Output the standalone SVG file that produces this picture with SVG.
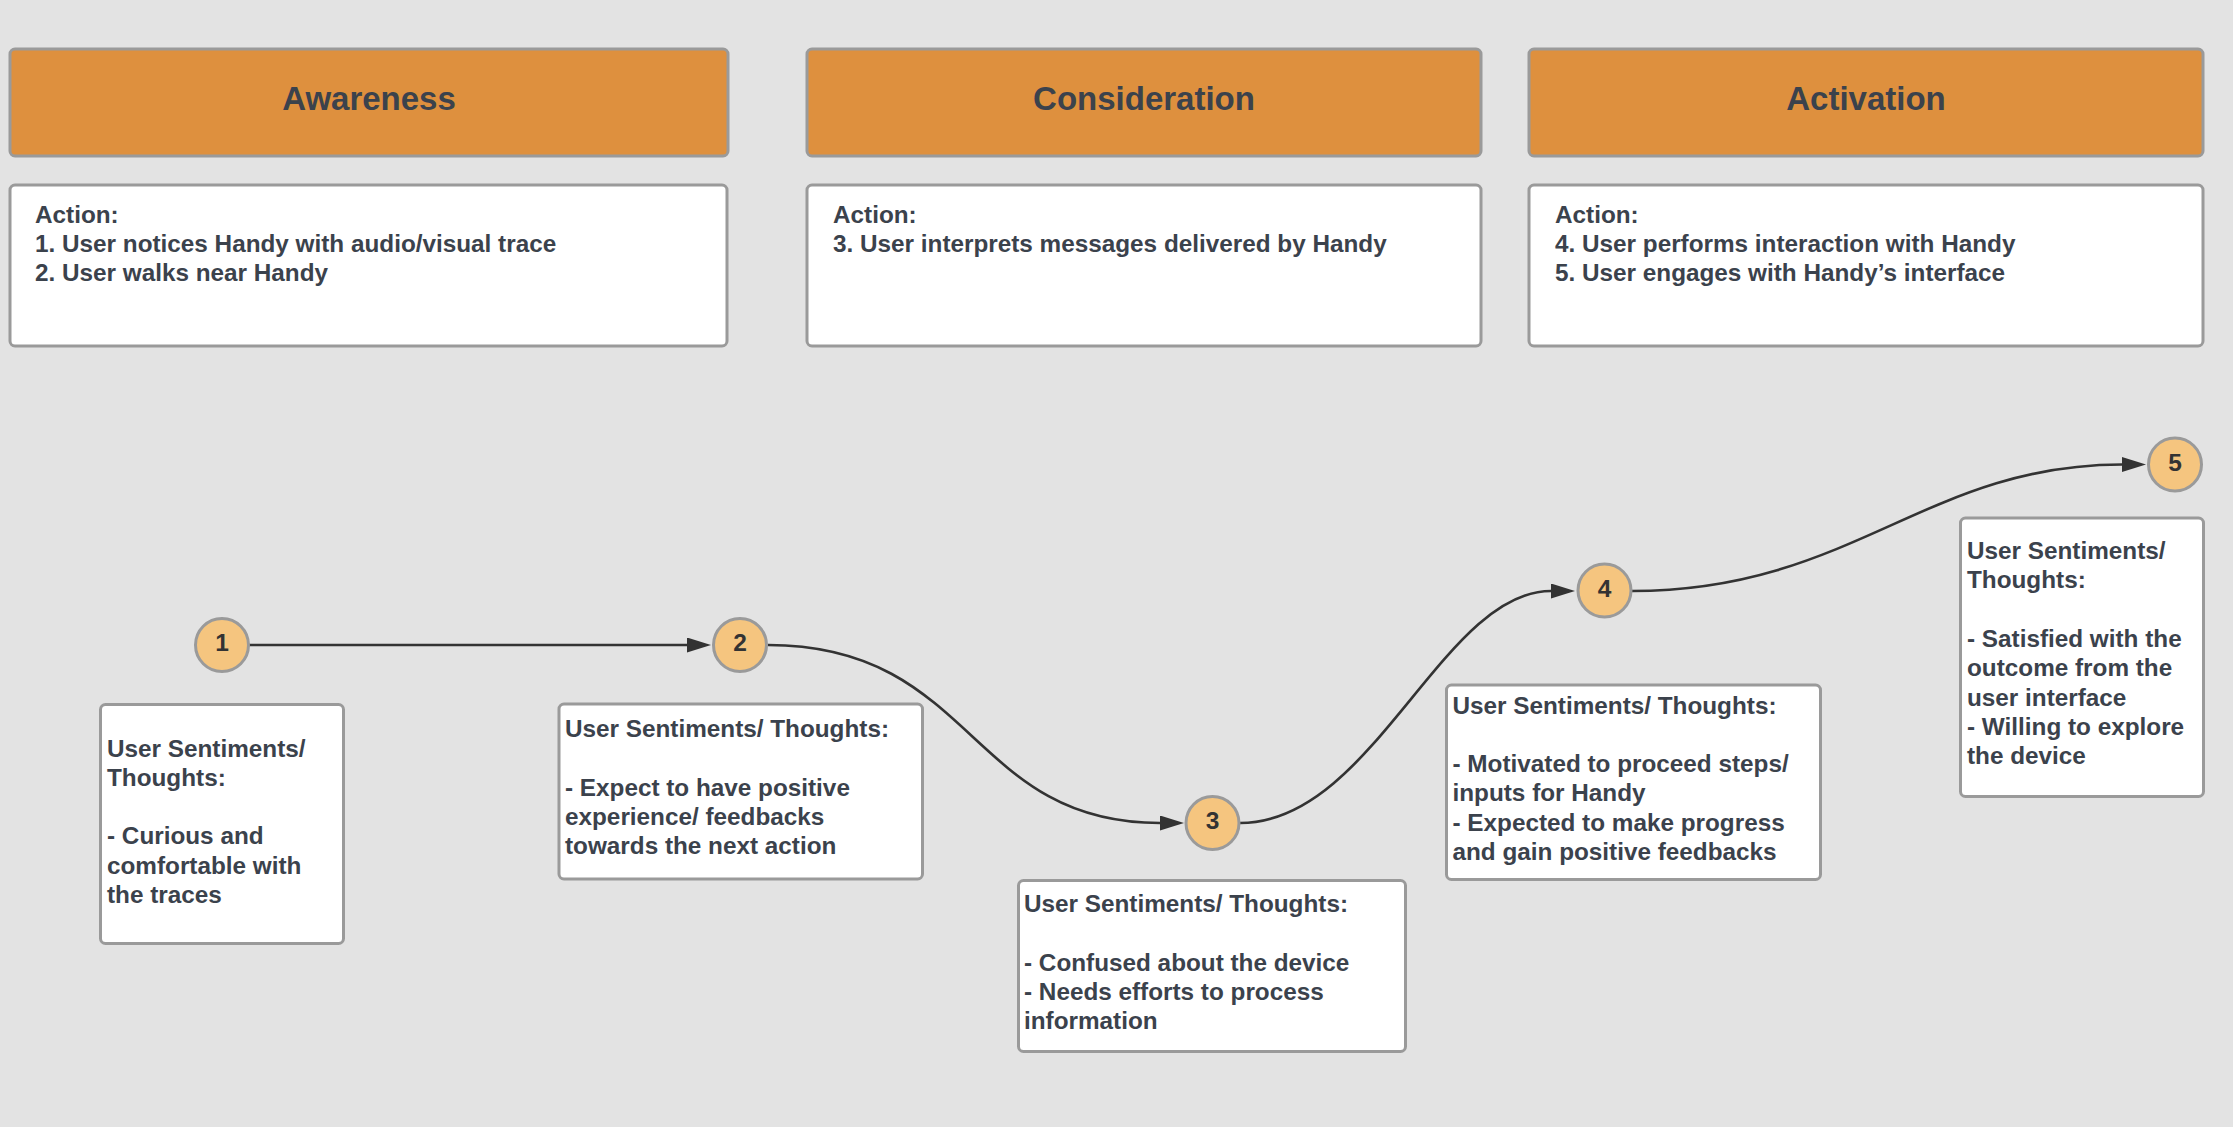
<svg xmlns="http://www.w3.org/2000/svg" width="2233" height="1127" viewBox="0 0 2233 1127">
<style>
  .bg { fill: #e3e3e3; }
  .stage { fill: #de903e; stroke: #9a9a9a; stroke-width: 3; }
  .box { fill: #ffffff; stroke: #9a9a9a; stroke-width: 3; }
  .dot { fill: #f5c57f; stroke: #9a9a9a; stroke-width: 3; }
  text { font-family: "Liberation Sans", Arial, sans-serif; font-weight: bold; fill: #3b424c; }
  .title { font-size: 33px; text-anchor: middle; }
  .body { font-size: 24.3px; }
  .num { font-size: 24.5px; text-anchor: middle; fill: #333333; }
  .conn { fill: none; stroke: #333333; stroke-width: 2.6; marker-end: url(#arrow); }
</style>
<defs>
  <marker id="arrow" markerUnits="userSpaceOnUse" markerWidth="25" markerHeight="16" refX="0" refY="7.5" orient="auto">
    <path d="M0,0 L24,7.5 L0,15 z" fill="#333333"/>
  </marker>
</defs>
<rect class="bg" x="0" y="0" width="2233" height="1127"/>

<g id="stage-awareness">
  <rect class="stage" x="10" y="49" width="718" height="107" rx="5"/>
  <text class="title" x="369" y="109.5">Awareness</text>
</g>
<g id="stage-consideration">
  <rect class="stage" x="807" y="49" width="674" height="107" rx="5"/>
  <text class="title" x="1144" y="109.5">Consideration</text>
</g>
<g id="stage-activation">
  <rect class="stage" x="1529" y="49" width="674" height="107" rx="5"/>
  <text class="title" x="1866" y="109.5">Activation</text>
</g>

<g id="action-awareness">
  <rect class="box" x="10" y="185" width="717" height="161" rx="5"/>
  <text class="body" x="35" y="222.5">Action:<tspan x="35" dy="29.2">1. User notices Handy with audio/visual trace</tspan><tspan x="35" dy="29.2">2. User walks near Handy</tspan></text>
</g>
<g id="action-consideration">
  <rect class="box" x="807" y="185" width="674" height="161" rx="5"/>
  <text class="body" x="833" y="222.5">Action:<tspan x="833" dy="29.2">3. User interprets messages delivered by Handy</tspan></text>
</g>
<g id="action-activation">
  <rect class="box" x="1529" y="185" width="674" height="161" rx="5"/>
  <text class="body" x="1555" y="222.5">Action:<tspan x="1555" dy="29.2">4. User performs interaction with Handy</tspan><tspan x="1555" dy="29.2">5. User engages with Handy’s interface</tspan></text>
</g>

<g id="connectors">
  <path class="conn" d="M249,645 L687,645"/>
  <path class="conn" d="M768,645 C975,645 968,823 1160,823"/>
  <path class="conn" d="M1240,823 C1373,823 1442,591 1551,591"/>
  <path class="conn" d="M1632,591 C1852,591 1925,464.5 2122,464.5"/>
</g>

<g id="step-1">
  <circle class="dot" cx="222" cy="645" r="26.5"/>
  <text class="num" x="222" y="651">1</text>
</g>
<g id="step-2">
  <circle class="dot" cx="740" cy="645" r="26.5"/>
  <text class="num" x="740" y="651">2</text>
</g>
<g id="step-3">
  <circle class="dot" cx="1212.5" cy="823" r="26.5"/>
  <text class="num" x="1212.5" y="829">3</text>
</g>
<g id="step-4">
  <circle class="dot" cx="1604.5" cy="590.5" r="26.5"/>
  <text class="num" x="1604.5" y="596.5">4</text>
</g>
<g id="step-5">
  <circle class="dot" cx="2175" cy="464.5" r="26.5"/>
  <text class="num" x="2175" y="470.5">5</text>
</g>

<g id="sentiment-1">
  <rect class="box" x="100.5" y="704.5" width="243" height="239" rx="5"/>
  <text class="body" x="107" y="756.5">User Sentiments/<tspan x="107" dy="29.3">Thoughts:</tspan><tspan x="107" dy="58.6">- Curious and</tspan><tspan x="107" dy="29.3">comfortable with</tspan><tspan x="107" dy="29.3">the traces</tspan></text>
</g>
<g id="sentiment-2">
  <rect class="box" x="559" y="704" width="363.5" height="175" rx="5"/>
  <text class="body" x="565" y="737">User Sentiments/ Thoughts:<tspan x="565" dy="58.6">- Expect to have positive</tspan><tspan x="565" dy="29.3">experience/ feedbacks</tspan><tspan x="565" dy="29.3">towards the next action</tspan></text>
</g>
<g id="sentiment-3">
  <rect class="box" x="1018.5" y="880.5" width="387" height="171" rx="5"/>
  <text class="body" x="1024" y="912">User Sentiments/ Thoughts:<tspan x="1024" dy="58.6">- Confused about the device</tspan><tspan x="1024" dy="29.3">- Needs efforts to process</tspan><tspan x="1024" dy="29.3">information</tspan></text>
</g>
<g id="sentiment-4">
  <rect class="box" x="1446.5" y="685" width="374" height="194.5" rx="5"/>
  <text class="body" x="1452.5" y="713.5">User Sentiments/ Thoughts:<tspan x="1452.5" dy="58.6">- Motivated to proceed steps/</tspan><tspan x="1452.5" dy="29.3">inputs for Handy</tspan><tspan x="1452.5" dy="29.3">- Expected to make progress</tspan><tspan x="1452.5" dy="29.3">and gain positive feedbacks</tspan></text>
</g>
<g id="sentiment-5">
  <rect class="box" x="1960.5" y="518" width="243" height="278.5" rx="5"/>
  <text class="body" x="1967" y="559">User Sentiments/<tspan x="1967" dy="29.3">Thoughts:</tspan><tspan x="1967" dy="58.6">- Satisfied with the</tspan><tspan x="1967" dy="29.3">outcome from the</tspan><tspan x="1967" dy="29.3">user interface</tspan><tspan x="1967" dy="29.3">- Willing to explore</tspan><tspan x="1967" dy="29.3">the device</tspan></text>
</g>
</svg>
